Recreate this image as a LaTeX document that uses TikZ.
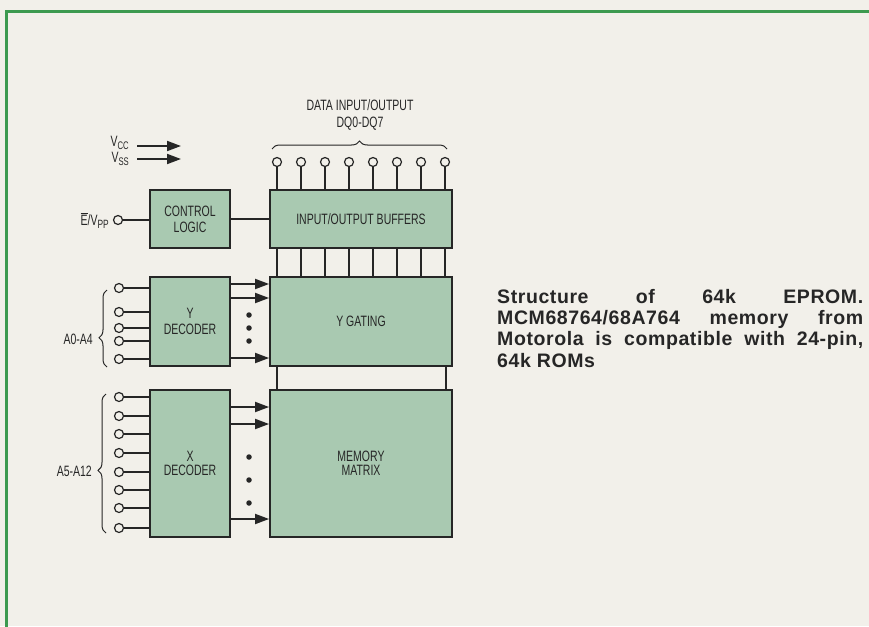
\documentclass[tikz,border=0pt]{standalone}
\usepackage{fontspec}
\setmainfont{Liberation Sans}
\newfontfamily\cond[FakeStretch=0.70]{Liberation Sans}
\newfontfamily\capfont[LetterSpace=3]{Liberation Sans}
\usetikzlibrary{arrows.meta,decorations.pathreplacing}
\definecolor{bg}{HTML}{F2F0EA}
\definecolor{blk}{HTML}{A9C9B1}
\definecolor{frm}{HTML}{3D9A50}
\definecolor{ink}{HTML}{262626}
\begin{document}
\begin{tikzpicture}[x=1pt,y=-1pt,
  blkbox/.style={draw=ink, line width=1.8pt, fill=blk, text=ink, align=center, inner sep=0pt,
    font=\cond\fontsize{15}{16}\selectfont},
  pinc/.style={circle, draw=ink, line width=1.2pt, fill=bg, minimum size=9pt, inner sep=0pt},
  wire/.style={draw=ink, line width=1.3pt},
  bigarrow/.style={draw=ink, line width=1.8pt, -{Triangle[length=14pt,width=10pt]}},
  dotn/.style={circle, fill=ink, minimum size=5.5pt, inner sep=0pt},
  lbl/.style={font=\cond\fontsize{15}{17}\selectfont, text=ink, inner sep=0pt},
  brc/.style={draw=ink, line width=1pt, decorate}
]
\fill[bg] (0,0) rectangle (869,626);
\useasboundingbox (0,0) rectangle (869,626);
\draw[frm, line width=3pt] (6,630) -- (6,12) -- (875,12);

% blocks
\node[blkbox, minimum width=80pt, minimum height=58pt] (ctrl) at (190,219) {CONTROL\\LOGIC};
\node[blkbox, minimum width=182pt, minimum height=58pt] (iob) at (361,219) {INPUT/OUTPUT BUFFERS};
\node[blkbox, minimum width=80pt, minimum height=89pt] (ydec) at (190,321.5) {Y\\DECODER};
\node[blkbox, minimum width=182pt, minimum height=89pt] (ygat) at (361,321.5) {Y GATING};
\node[blkbox, minimum width=80pt, minimum height=147pt] (xdec) at (190,463.5) {\raisebox{-6pt}{\shortstack{X\\[1pt]DECODER}}};
\node[blkbox, minimum width=182pt, minimum height=147pt] (mem) at (361,463.5) {\raisebox{-6pt}{\shortstack{MEMORY\\[1pt]MATRIX}}};

% data pins
\node[lbl, align=center] (dlab) at (360,115) {DATA INPUT/OUTPUT\\DQ0-DQ7};
\draw[brc, decoration={brace, amplitude=8pt}] (272,149) coordinate (tb1) -- (447,149) coordinate (tb2);
\foreach \i in {0,...,7} {
  \node[pinc] (d\i) at ({277+24*\i},162) {};
  \draw[wire] (d\i.south) -- (d\i.south |- iob.north);
  \draw[wire] (d\i |- iob.south) -- (d\i |- ygat.north);
}
\draw[wire] ([xshift=8pt]ygat.south west) -- ([xshift=8pt]mem.north west);
\draw[wire] ([xshift=-7pt]ygat.south east) -- ([xshift=-7pt]mem.north east);
\draw[wire] (ctrl.east) -- (ctrl.east -| iob.west);

% supply
\node[lbl, anchor=base east] (vcc) at (129,146.5) {V\raisebox{-2.5pt}{\fontsize{11}{11}\selectfont CC}};
\node[lbl, anchor=base east] (vss) at (129,162.5) {V\raisebox{-2.5pt}{\fontsize{11}{11}\selectfont SS}};
\coordinate (vccs) at (137,146); \coordinate (vcce) at (181,146);
\coordinate (vsss) at (137,159); \coordinate (vsse) at (181,159);
\draw[bigarrow] (vccs) -- (vcce);
\draw[bigarrow] (vsss) -- (vsse);

% E/Vpp
\node[pinc] (ep) at (118,220) {};
\draw[wire] (ep.east) -- (ep.east -| ctrl.west);
\node[lbl, anchor=base east] (eplab) at (109,225) {$\overline{\mbox{\cond E}}$/V\raisebox{-3pt}{\fontsize{12}{12}\selectfont PP}};

% Y decoder inputs
\foreach \y [count=\k] in {288,312,328,341,359} {
  \node[pinc] (ya\k) at (119,\y) {};
  \draw[wire] (ya\k.east) -- (ya\k.east -| ydec.west);
}
\draw[brc, decoration={brace, amplitude=8pt, aspect=0.38}] (107,367) coordinate (ab1) -- (107,290) coordinate (ab2);
\node[lbl, anchor=east] (a04) at (93,339) {A0-A4};

% X decoder inputs
\foreach \y [count=\k] in {397,416,434,453,472,490,508,528} {
  \node[pinc] (xa\k) at (119,\y) {};
  \draw[wire] (xa\k.east) -- (xa\k.east -| xdec.west);
}
\draw[brc, decoration={brace, amplitude=8pt, aspect=0.45}] (106,533) coordinate (xb1) -- (106,394) coordinate (xb2);
\node[lbl, anchor=east] (a512) at (92,471) {A5-A12};

% decoder outputs
\foreach \y in {284,298,358} {
  \draw[bigarrow] (ydec.east |- 0,\y) -- (ygat.west |- 0,\y);
}
\foreach \y in {315,328,341} { \node[dotn] (yd\y) at (249,\y) {}; }
\foreach \y in {407,424,519} {
  \draw[bigarrow] (xdec.east |- 0,\y) -- (mem.west |- 0,\y);
}
\foreach \y in {457,480,503} { \node[dotn] (xd\y) at (249,\y) {}; }

% caption
\node[anchor=north west, text width=366pt, align=justify, inner sep=0pt, text=ink,
  font=\capfont\bfseries\fontsize{19.5}{21.3}\selectfont] (cap) at (497,289)
  {\hyphenpenalty=10000\exhyphenpenalty=10000 Structure of 64k EPROM.\linebreak
   MCM68764/68A764 memory from\linebreak
   Motorola is compatible with 24-pin,\linebreak
   64k ROMs};
\end{tikzpicture}
\end{document}
